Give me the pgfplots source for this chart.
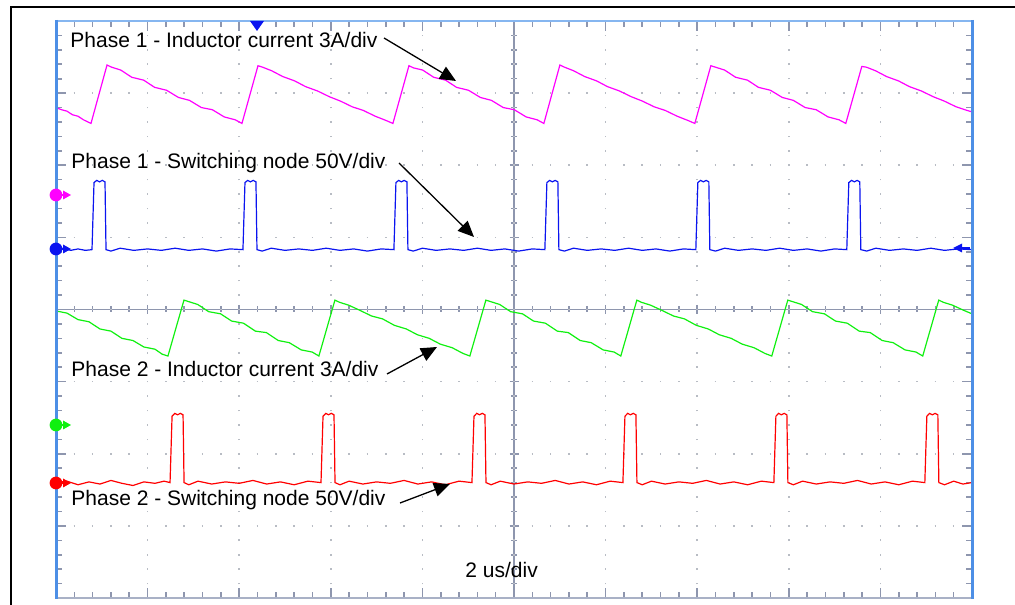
\documentclass[border=0pt]{standalone}
\usepackage{fontspec}
\setmainfont{Liberation Sans}
\usepackage{pgfplots}
\pgfplotsset{compat=1.18}
\usetikzlibrary{arrows.meta}

\definecolor{tickcol}{HTML}{8E96AE}
\definecolor{gridcol}{HTML}{B8BCC4}
\definecolor{borderblue}{HTML}{4D8FE6}
\definecolor{topblue}{HTML}{86B6F0}
\definecolor{botgray}{HTML}{A9B1C6}
\definecolor{tmag}{HTML}{FF00FF}
\definecolor{tblue}{HTML}{0A14F0}
\definecolor{tgreen}{HTML}{10F010}
\definecolor{tred}{HTML}{FF0000}

\begin{document}
\begin{tikzpicture}
\useasboundingbox (0,0) rectangle (507.5pt,302pt);

% pixel scope: 1 unit = 1 px of the 1015x604 picture, y downwards
\begin{scope}[shift={(0,302pt)},x=0.5pt,y=-0.5pt]
  \draw[black, line width=1.1pt] (11,620) -- (11,7) -- (1020,7);
  % centre cross
  \draw[tickcol, line width=0.8pt] (514,21) -- (514,598);
  \draw[tickcol, line width=0.8pt] (56,309.5) -- (972,309.5);
  \foreach \i in {1,...,39}{\draw[tickcol, line width=0.8pt] (511,{21+\i*14.425}) -- (517,{21+\i*14.425});}
  \foreach \i in {1,...,7}{\draw[tickcol, line width=0.8pt] (509.5,{21+\i*72.125}) -- (518.5,{21+\i*72.125});}
  \foreach \i in {1,...,49}{\draw[tickcol, line width=0.8pt] ({56+\i*18.32},306.5) -- ({56+\i*18.32},312.5);}
  \foreach \i in {1,...,9}{\draw[tickcol, line width=0.8pt] ({56+\i*91.6},305) -- ({56+\i*91.6},314);}
\end{scope}

\begin{axis}[
  at={(28pt,3pt)}, anchor=south west,
  width=458pt, height=288.5pt, scale only axis,
  xmin=0, xmax=10, ymin=-4, ymax=4,
  xtick={0,...,10}, ytick={-4,...,4},
  minor x tick num=4, minor y tick num=4,
  xticklabels={}, yticklabels={},
  tick align=inside,
  major tick length=5pt, minor tick length=3.2pt,
  tick style={tickcol, line width=0.8pt},
  grid=major,
  x grid style={gridcol, line width=0.8pt, dash pattern=on 0.8pt off 6.4125pt, dash phase=0.4pt},
  y grid style={gridcol, line width=0.8pt, dash pattern=on 0.8pt off 8.36pt, dash phase=0.4pt},
  axis line style={draw=none},
]
% Phase 1 inductor current
\addplot[tmag, line width=0.6pt] coordinates {
(0.000,2.80) (0.060,2.77) (0.120,2.75) (0.180,2.70) (0.240,2.68) (0.300,2.63) (0.382,2.58)
(0.557,3.39) (0.607,3.36) (0.707,3.32) (0.827,3.22) (0.957,3.18) (1.077,3.08) (1.207,3.04)
(1.337,2.94) (1.457,2.90) (1.587,2.80) (1.707,2.77) (1.837,2.67) (1.957,2.63) (2.030,2.58)
(2.205,3.38) (2.255,3.36) (2.355,3.31) (2.475,3.23) (2.605,3.17) (2.725,3.09) (2.855,3.03)
(2.985,2.95) (3.105,2.89) (3.235,2.81) (3.355,2.76) (3.485,2.68) (3.605,2.62) (3.678,2.58)
(3.853,3.38) (3.903,3.35) (4.003,3.32) (4.123,3.22) (4.253,3.18) (4.373,3.08) (4.503,3.04)
(4.633,2.94) (4.753,2.90) (4.883,2.80) (5.003,2.77) (5.133,2.67) (5.253,2.63) (5.326,2.58)
(5.501,3.39) (5.551,3.36) (5.651,3.31) (5.771,3.23) (5.901,3.17) (6.021,3.09) (6.151,3.03)
(6.281,2.95) (6.401,2.89) (6.531,2.81) (6.651,2.76) (6.781,2.68) (6.901,2.62) (6.974,2.58)
(7.149,3.38) (7.199,3.36) (7.299,3.32) (7.419,3.22) (7.549,3.18) (7.669,3.08) (7.799,3.04)
(7.929,2.94) (8.049,2.90) (8.179,2.80) (8.299,2.77) (8.429,2.67) (8.549,2.63) (8.622,2.58)
(8.797,3.37) (8.847,3.36) (8.947,3.31) (9.067,3.23) (9.197,3.17) (9.317,3.09) (9.447,3.03)
(9.577,2.95) (9.697,2.89) (9.827,2.81) (9.947,2.76) (10.000,2.74)
};
% Phase 1 switching node
\addplot[tblue, line width=0.6pt] coordinates {
(0.000,0.83) (0.080,0.85) (0.160,0.82) (0.240,0.84) (0.320,0.82) (0.393,0.83)
(0.415,1.76) (0.445,1.79) (0.475,1.77) (0.505,1.79) (0.535,1.77) (0.546,0.83)
(0.600,0.81) (0.700,0.85) (0.850,0.82) (1.000,0.84) (1.150,0.82) (1.300,0.85) (1.450,0.82) (1.600,0.84) (1.750,0.81) (1.900,0.84) (2.041,0.83)
(2.063,1.76) (2.093,1.79) (2.123,1.77) (2.153,1.79) (2.183,1.77) (2.194,0.83)
(2.250,0.81) (2.350,0.85) (2.500,0.82) (2.650,0.84) (2.800,0.82) (2.950,0.85) (3.100,0.82) (3.250,0.84) (3.400,0.81) (3.550,0.84) (3.689,0.83)
(3.711,1.76) (3.741,1.79) (3.771,1.77) (3.801,1.79) (3.831,1.77) (3.842,0.83)
(3.900,0.81) (4.000,0.85) (4.150,0.82) (4.300,0.84) (4.450,0.82) (4.600,0.85) (4.750,0.82) (4.900,0.84) (5.050,0.81) (5.200,0.84) (5.337,0.83)
(5.359,1.76) (5.389,1.79) (5.419,1.77) (5.449,1.79) (5.479,1.77) (5.490,0.83)
(5.550,0.81) (5.650,0.85) (5.800,0.82) (5.950,0.84) (6.100,0.82) (6.250,0.85) (6.400,0.82) (6.550,0.84) (6.700,0.81) (6.850,0.84) (6.985,0.83)
(7.007,1.76) (7.037,1.79) (7.067,1.77) (7.097,1.79) (7.127,1.77) (7.138,0.83)
(7.200,0.81) (7.300,0.85) (7.450,0.82) (7.600,0.84) (7.750,0.82) (7.900,0.85) (8.050,0.82) (8.200,0.84) (8.350,0.81) (8.500,0.84) (8.633,0.83)
(8.655,1.76) (8.685,1.79) (8.715,1.77) (8.745,1.79) (8.775,1.77) (8.786,0.83)
(8.850,0.81) (8.950,0.85) (9.100,0.82) (9.250,0.84) (9.400,0.82) (9.550,0.85) (9.700,0.82) (9.850,0.84) (10.000,0.83)
};
% Phase 2 inductor current
\addplot[tgreen, line width=0.6pt] coordinates {
(0.000,-0.02) (0.120,-0.05) (0.240,-0.14) (0.360,-0.17) (0.480,-0.27) (0.600,-0.30) (0.720,-0.40)
(0.840,-0.43) (0.960,-0.52) (1.080,-0.55) (1.160,-0.62) (1.222,-0.645)
(1.397,0.13) (1.447,0.11) (1.547,0.07) (1.667,-0.03) (1.797,-0.06) (1.917,-0.16) (2.047,-0.19)
(2.177,-0.30) (2.297,-0.32) (2.427,-0.43) (2.547,-0.46) (2.677,-0.56) (2.797,-0.59) (2.870,-0.645)
(3.045,0.13) (3.095,0.10) (3.195,0.06) (3.315,-0.01) (3.445,-0.09) (3.565,-0.13) (3.695,-0.22)
(3.825,-0.27) (3.945,-0.35) (4.075,-0.40) (4.195,-0.48) (4.325,-0.53) (4.445,-0.61) (4.518,-0.645)
(4.693,0.13) (4.743,0.11) (4.843,0.07) (4.963,-0.03) (5.093,-0.06) (5.213,-0.16) (5.343,-0.19)
(5.473,-0.30) (5.593,-0.32) (5.723,-0.43) (5.843,-0.46) (5.973,-0.56) (6.093,-0.59) (6.166,-0.645)
(6.341,0.13) (6.391,0.10) (6.491,0.06) (6.611,-0.01) (6.741,-0.09) (6.861,-0.13) (6.991,-0.22)
(7.121,-0.27) (7.241,-0.35) (7.371,-0.40) (7.491,-0.48) (7.621,-0.53) (7.741,-0.61) (7.814,-0.645)
(7.989,0.13) (8.039,0.11) (8.139,0.07) (8.259,-0.03) (8.389,-0.06) (8.509,-0.16) (8.639,-0.19)
(8.769,-0.30) (8.889,-0.32) (9.019,-0.43) (9.139,-0.46) (9.269,-0.56) (9.389,-0.59) (9.462,-0.645)
(9.637,0.13) (9.687,0.10) (9.787,0.06) (9.907,-0.01) (10.000,-0.06)
};
% Phase 2 switching node
\addplot[tred, line width=0.6pt] coordinates {
(0.000,-2.40) (0.120,-2.38) (0.240,-2.43) (0.360,-2.39) (0.480,-2.42) (0.600,-2.37) (0.720,-2.41) (0.840,-2.44) (0.960,-2.39) (1.080,-2.41) (1.180,-2.38) (1.245,-2.40)
(1.267,-1.48) (1.297,-1.44) (1.327,-1.46) (1.357,-1.44) (1.387,-1.46) (1.398,-2.40)
(1.450,-2.43) (1.550,-2.38) (1.700,-2.42) (1.850,-2.39) (2.000,-2.41) (2.150,-2.37) (2.300,-2.42) (2.450,-2.39) (2.600,-2.43) (2.750,-2.38) (2.893,-2.40)
(2.915,-1.48) (2.945,-1.44) (2.975,-1.46) (3.005,-1.44) (3.035,-1.46) (3.046,-2.40)
(3.100,-2.43) (3.200,-2.38) (3.350,-2.42) (3.500,-2.39) (3.650,-2.41) (3.800,-2.37) (3.950,-2.42) (4.100,-2.39) (4.250,-2.43) (4.400,-2.38) (4.541,-2.40)
(4.563,-1.48) (4.593,-1.44) (4.623,-1.46) (4.653,-1.44) (4.683,-1.46) (4.694,-2.40)
(4.750,-2.43) (4.850,-2.38) (5.000,-2.42) (5.150,-2.39) (5.300,-2.41) (5.450,-2.37) (5.600,-2.42) (5.750,-2.39) (5.900,-2.43) (6.050,-2.38) (6.189,-2.40)
(6.211,-1.48) (6.241,-1.44) (6.271,-1.46) (6.301,-1.44) (6.331,-1.46) (6.342,-2.40)
(6.400,-2.43) (6.500,-2.38) (6.650,-2.42) (6.800,-2.39) (6.950,-2.41) (7.100,-2.37) (7.250,-2.42) (7.400,-2.39) (7.550,-2.43) (7.700,-2.38) (7.837,-2.40)
(7.859,-1.48) (7.889,-1.44) (7.919,-1.46) (7.949,-1.44) (7.979,-1.46) (7.990,-2.40)
(8.050,-2.43) (8.150,-2.38) (8.300,-2.42) (8.450,-2.39) (8.600,-2.41) (8.750,-2.37) (8.900,-2.42) (9.050,-2.39) (9.200,-2.43) (9.350,-2.38) (9.485,-2.40)
(9.507,-1.48) (9.537,-1.44) (9.567,-1.46) (9.597,-1.44) (9.627,-1.46) (9.638,-2.40)
(9.700,-2.43) (9.800,-2.38) (9.900,-2.42) (10.000,-2.40)
};
\end{axis}

\begin{scope}[shift={(0,302pt)},x=0.5pt,y=-0.5pt]
  % screen border
  \draw[topblue, line width=1pt] (56,21) -- (972,21);
  \draw[botgray, line width=1pt] (56,598) -- (972,598);
  \draw[borderblue, line width=1.5pt] (56,20) -- (56,599);
  \draw[borderblue, line width=1.5pt] (972,20) -- (972,599);
  % trigger marker
  \fill[tblue] (250,21) -- (264,21) -- (257,31) -- cycle;
  % channel ground markers
  \foreach \yy/\cc in {195/tmag, 249/tblue, 425/tgreen, 483/tred}{
    \fill[\cc] (56,\yy) circle (3.2pt);
    \draw[\cc, line width=0.8pt] (56,\yy) -- (66,\yy);
    \fill[\cc] (63,\yy-4.5) -- (71,\yy) -- (63,\yy+4.5) -- cycle;
  }
  \fill[tblue] (953,248) -- (962,243.5) -- (962,252.5) -- cycle;
  \draw[tblue, line width=0.8pt] (958,248) -- (970,248);
  % annotations
  \tikzset{lbl/.style={anchor=base west, inner sep=0pt, font=\fontsize{10.5}{12}\selectfont}}
  \node[lbl] at (70,48) {Phase 1 - Inductor current 3A/div};
  \node[lbl] at (71,169) {Phase 1 - Switching node 50V/div};
  \node[lbl] at (71,377) {Phase 2 - Inductor current 3A/div};
  \node[lbl] at (71,506) {Phase 2 - Switching node 50V/div};
  \node[lbl] at (465,577) {2 us/div};
  \tikzset{arr/.style={black, line width=0.65pt, -{Triangle[length=8pt,width=7pt]}}}
  \draw[arr] (384,38) -- (456,81);
  \draw[arr] (399,163) -- (474,237);
  \draw[arr] (387,374) -- (437,347);
  \draw[arr] (400,503) -- (450,484);
\end{scope}
\end{tikzpicture}
\end{document}
